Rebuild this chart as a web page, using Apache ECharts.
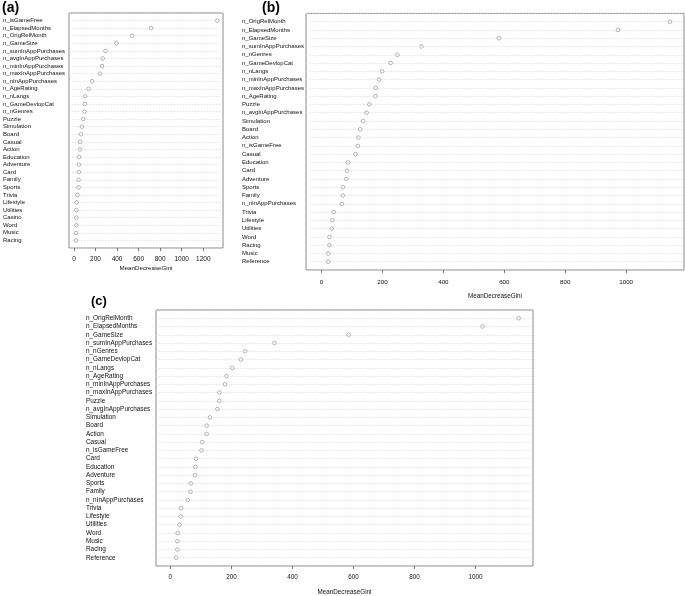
<!DOCTYPE html>
<html>
<head>
<meta charset="utf-8">
<script src="https://cdn.jsdelivr.net/npm/echarts@6/dist/echarts.min.js"></script>
<style>html,body{margin:0;padding:0;background:#fff}#c{width:685px;height:596px}</style>
</head>
<body>
<div id="c"></div>
<script>
var catsA = ['n_isGameFree','n_ElapsedMonths','n_OrigRelMonth','n_GameSize','n_sumInAppPurchases','n_avgInAppPurchases','n_minInAppPurchases','n_maxInAppPurchases','n_nInAppPurchases','n_AgeRating','n_nLangs','n_GameDevlopCat','n_nGenres','Puzzle','Simulation','Board','Casual','Action','Education','Adventure','Card','Family','Sports','Trivia','Lifestyle','Utilities','Casino','Word','Music','Racing'];
var valsA = [1330,716,541,393,292,267,261,240,169,135,104,101,98,86,74,65,57,56,49,46,46,43,43,31,25,22,22,22,18,18];

var catsB = ['n_OrigRelMonth','n_ElapsedMonths','n_GameSize','n_sumInAppPurchases','n_nGenres','n_GameDevlopCat','n_nLangs','n_minInAppPurchases','n_maxInAppPurchases','n_AgeRating','Puzzle','n_avgInAppPurchases','Simulation','Board','Action','n_isGameFree','Casual','Education','Card','Adventure','Sports','Family','n_nInAppPurchases','Trivia','Lifestyle','Utilities','Word','Racing','Music','Reference'];
var valsB = [1144,973,582,328,249,227,199,189,178,177,157,148,137,127,121,119,111,87,84,81,71,70,67,40,36,33,26,26,22,22];

var catsC = ['n_OrigRelMonth','n_ElapsedMonths','n_GameSize','n_sumInAppPurchases','n_nGenres','n_GameDevlopCat','n_nLangs','n_AgeRating','n_minInAppPurchases','n_maxInAppPurchases','Puzzle','n_avgInAppPurchases','Simulation','Board','Action','Casual','n_isGameFree','Card','Education','Adventure','Sports','Family','n_nInAppPurchases','Trivia','Lifestyle','Utilities','Word','Music','Racing','Reference'];
var valsC = [1141,1023,584,341,245,231,203,184,179,161,160,154,130,119,119,104,102,84,82,81,67,66,57,35,34,30,24,23,23,19];

var ticksA = [0,200,400,600,800,1000,1200];
var ticksB = [0,200,400,600,800,1000];
var ticksC = [0,200,400,600,800,1000];

var xName = 'MeanDecreaseGini';
var FONT = 'Liberation Sans, Arial, sans-serif';

var panels = [
  {cats: catsA, vals: valsA, ticks: ticksA, grid: {left: 68, top: 13, width: 155, height: 235}, min: -46, max: 1383, ylabFs: 6, ylabMargin: 66, xlabFs: 6.5, xlabMargin: 8, nameGap: 17, nameFs: 6.2},
  {cats: catsB, vals: valsB, ticks: ticksB, grid: {left: 306, top: 13.4, width: 378, height: 256.6}, min: -51, max: 1190, ylabFs: 6, ylabMargin: 64, xlabFs: 6.2, xlabMargin: 9, nameGap: 23, nameFs: 6.3},
  {cats: catsC, vals: valsC, ticks: ticksC, grid: {left: 156, top: 310, width: 377, height: 256.5}, min: -47, max: 1188, ylabFs: 6.4, ylabMargin: 70, xlabFs: 6.3, xlabMargin: 8, nameGap: 23, nameFs: 6.3}
];

var option = {
  backgroundColor: '#fff',
  animation: false,
  title: [
    {text: '(a)', left: 2, top: 1, padding: 0, textStyle: {fontSize: 14, fontWeight: 'bold', fontFamily: FONT, color: '#000'}},
    {text: '(b)', left: 262, top: 1, padding: 0, textStyle: {fontSize: 14, fontWeight: 'bold', fontFamily: FONT, color: '#000'}},
    {text: '(c)', left: 91, top: 295, padding: 0, textStyle: {fontSize: 13, fontWeight: 'bold', fontFamily: FONT, color: '#000'}}
  ],
  grid: [], xAxis: [], yAxis: [], series: []
};

panels.forEach(function (p, k) {
  option.grid.push(Object.assign({show: true, borderColor: '#8a8a8a', borderWidth: 1, backgroundColor: 'transparent', containLabel: false}, p.grid));
  option.xAxis.push({
    type: 'value', gridIndex: k, min: p.min, max: p.max,
    name: xName, nameLocation: 'middle', nameGap: p.nameGap,
    nameTextStyle: {fontSize: p.nameFs, fontFamily: FONT, color: '#111'},
    axisLine: {show: false},
    axisTick: {show: true, length: 3, customValues: p.ticks, lineStyle: {color: '#555', width: 0.8}},
    axisLabel: {customValues: p.ticks, fontSize: p.xlabFs, fontFamily: FONT, color: '#111', margin: p.xlabMargin,
      formatter: function (v) { return String(v); }},
    splitLine: {show: false}
  });
  option.yAxis.push({
    type: 'category', gridIndex: k, inverse: true, boundaryGap: false,
    data: [''].concat(p.cats).concat(['']),
    axisLine: {show: false}, axisTick: {show: false},
    axisLabel: {interval: 0, align: 'left', margin: p.ylabMargin, fontSize: p.ylabFs, fontFamily: FONT, color: '#111'},
    splitLine: {show: true, interval: 0, lineStyle: {color: '#d8d8d8', type: [1.5, 1.5], width: 0.7}}
  });
  option.series.push({
    type: 'scatter', xAxisIndex: k, yAxisIndex: k,
    symbol: 'circle', symbolSize: 3.6,
    itemStyle: {color: '#ffffff', borderColor: '#7a7a7a', borderWidth: 0.7},
    data: p.vals.map(function (v, i) { return [v, i + 1]; })
  });
});

var chart = echarts.init(document.getElementById('c'), null, {renderer: 'canvas'});
chart.setOption(option);
</script>
</body>
</html>
